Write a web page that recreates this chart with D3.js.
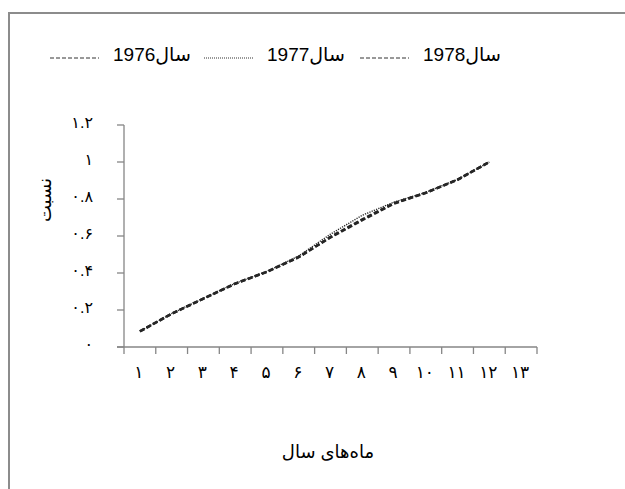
<!DOCTYPE html>
<html>
<head>
<meta charset="utf-8">
<script src="https://cdn.jsdelivr.net/npm/d3@7"></script>
<style>
  body { margin: 0; background: #fff; }
  svg { display: block; font-family: "Liberation Sans", "DejaVu Sans", Arial, sans-serif; }
</style>
</head>
<body>
<script>
const width = 625;
const height = 489;

// months on the x axis (13 slots, last one empty)
const months = [1, 2, 3, 4, 5, 6, 7, 8, 9, 10, 11, 12, 13];
const yTicks = [0, 0.2, 0.4, 0.6, 0.8, 1, 1.2];

// cumulative share per month
const v1976 = [0.085, 0.18, 0.262, 0.343, 0.407, 0.487, 0.592, 0.686, 0.775, 0.833, 0.905, 1];
const v1977 = [0.085, 0.181, 0.263, 0.344, 0.409, 0.492, 0.61, 0.712, 0.783, 0.836, 0.906, 1];
const v1978 = [0.084, 0.179, 0.261, 0.342, 0.406, 0.485, 0.595, 0.69, 0.778, 0.834, 0.904, 1];

const seriesNames = ["سال1976", "سال1977", "سال1978"];

const series = [
  { name: seriesNames[0], values: v1976, dash: "5,2.5", w: 2.5, ldash: "4,2" },
  { name: seriesNames[1], values: v1977, dash: "1.2,1.2", w: 1.4, ldash: "1,1" },
  { name: seriesNames[2], values: v1978, dash: "5,2.5", w: 2.5, ldash: "4,2" },
];

const fa = (s) => String(s).replace(/\d/g, (d) => "۰۱۲۳۴۵۶۷۸۹"[d]);

const svg = d3.select("body").append("svg")
  .attr("width", width)
  .attr("height", height);

// outer frame (runs off the right and bottom)
svg.append("path")
  .attr("d", `M9,${height + 5}V13H${width + 5}`)
  .attr("fill", "none")
  .attr("stroke", "#8c8c8c")
  .attr("stroke-width", 2);

const x = d3.scaleBand().domain(months).range([124, 537]);
const y = d3.scaleLinear().domain([0, 1.2]).range([347, 125]);

const axisColor = "#868686";

// y axis
svg.append("line")
  .attr("x1", 124).attr("x2", 124)
  .attr("y1", y(1.2)).attr("y2", y(0))
  .attr("stroke", axisColor).attr("stroke-width", 1.3);

svg.selectAll(".ytick")
  .data(yTicks)
  .join("line")
  .attr("x1", 117).attr("x2", 124)
  .attr("y1", (d) => y(d)).attr("y2", (d) => y(d))
  .attr("stroke", axisColor).attr("stroke-width", 1.3);

svg.selectAll(".ylab")
  .data(yTicks)
  .join("text")
  .attr("x", 93)
  .attr("y", (d) => y(d) + 3)
  .attr("text-anchor", "end")
  .attr("direction", "ltr")
  .attr("font-size", 16)
  .text((d) => fa(d3.format("~g")(d)));

// x axis
svg.append("line")
  .attr("x1", 117).attr("x2", 537)
  .attr("y1", y(0)).attr("y2", y(0))
  .attr("stroke", axisColor).attr("stroke-width", 1.3);

const xEdges = months.map((m) => x(m)).concat([x.range()[1]]);
svg.selectAll(".xtick")
  .data(xEdges)
  .join("line")
  .attr("x1", (d) => d).attr("x2", (d) => d)
  .attr("y1", y(0)).attr("y2", y(0) + 7)
  .attr("stroke", axisColor).attr("stroke-width", 1.3);

svg.selectAll(".xlab")
  .data(months)
  .join("text")
  .attr("x", (d) => x(d) + x.bandwidth() / 2 - 1)
  .attr("y", 378)
  .attr("text-anchor", "middle")
  .attr("direction", "ltr")
  .attr("font-size", 17)
  .text((d) => fa(d));

// axis titles
svg.append("text")
  .attr("transform", "translate(51,200) rotate(-90)")
  .attr("text-anchor", "middle")
  .attr("font-size", 18)
  .text("نسبت");

svg.append("text")
  .attr("x", 328)
  .attr("y", 458)
  .attr("text-anchor", "middle")
  .attr("font-size", 18)
  .text("ماه‌های سال");

// lines
const line = d3.line()
  .x((d, i) => x(months[i]) + x.bandwidth() / 2)
  .y((d) => y(d));

svg.selectAll(".series")
  .data(series)
  .join("path")
  .attr("d", (d) => line(d.values))
  .attr("fill", "none")
  .attr("stroke", "#262626")
  .attr("stroke-width", (d) => d.w)
  .attr("stroke-dasharray", (d) => d.dash);

// legend
const legendX = [50, 204, 360];
const legend = svg.selectAll(".legend")
  .data(series)
  .join("g")
  .attr("transform", (d, i) => `translate(${legendX[i]},0)`);

legend.append("line")
  .attr("x1", 0).attr("x2", 49)
  .attr("y1", 58).attr("y2", 58)
  .attr("stroke", "#333")
  .attr("stroke-width", 1)
  .attr("stroke-dasharray", (d) => d.ldash);

legend.append("text")
  .attr("x", 63)
  .attr("y", 61)
  .attr("font-size", 19)
  .text((d) => d.name);
</script>
</body>
</html>
